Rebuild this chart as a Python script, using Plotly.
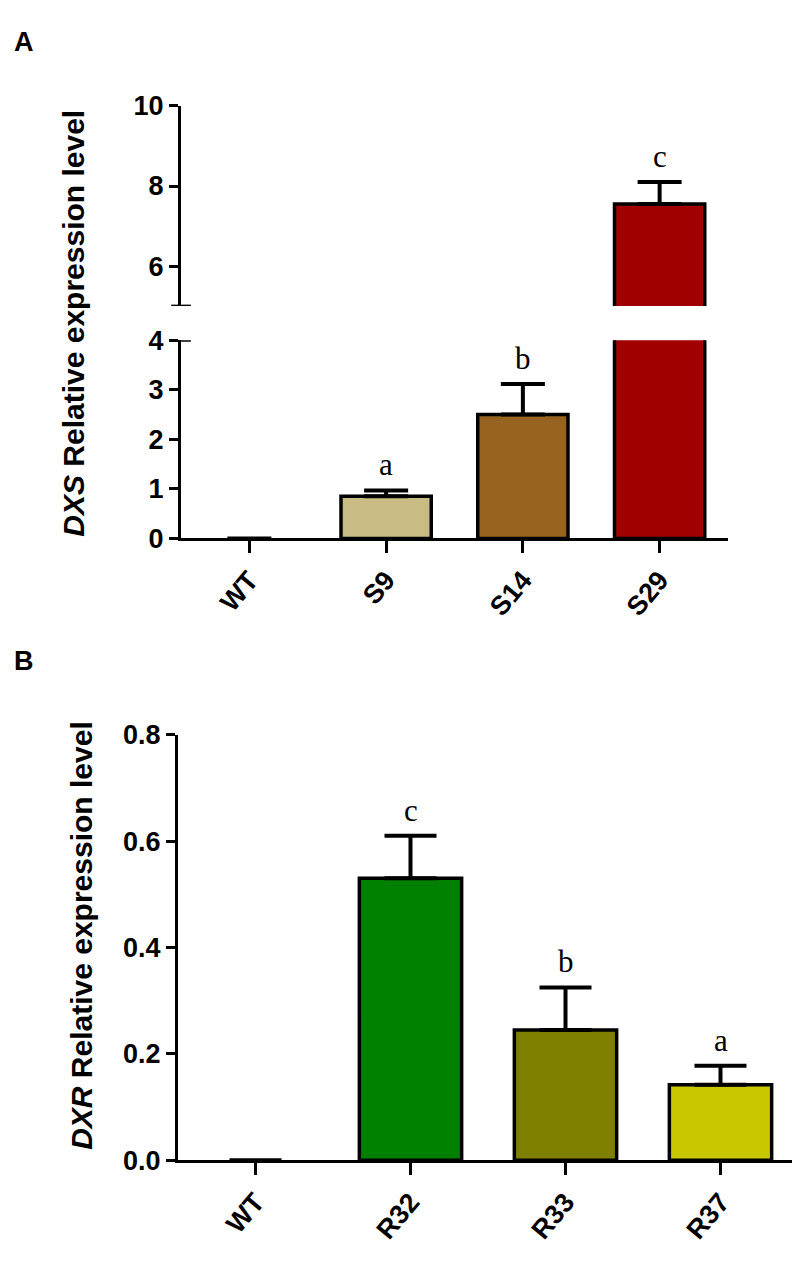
import plotly.graph_objects as go

W, H = 800, 1265

# ---------------- data ----------------
cats_a = ["WT", "S9", "S14", "S29"]
vals_a = [0.0, 0.85, 2.5, 7.55]
err_a = [0.0, 0.12, 0.62, 0.55]
letters_a = ["", "a", "b", "c"]
colors_a = ["#FFFFFF", "#C8BC84", "#966420", "#A00000"]

cats_b = ["WT", "R32", "R33", "R37"]
vals_b = [0.0, 0.53, 0.245, 0.142]
err_b = [0.0, 0.08, 0.08, 0.036]
letters_b = ["", "c", "b", "a"]
colors_b = ["#FFFFFF", "#007F00", "#808000", "#C8C800"]

lower_ticks_a = [0, 1, 2, 3, 4]
upper_ticks_a = [6, 8, 10]
ticks_b = [0.0, 0.2, 0.4, 0.6, 0.8]


def px_x(p):
    return p / W


def px_y(p):
    return 1 - p / H


FONT = "Liberation Sans, Arial, sans-serif"
SERIF = "Liberation Serif, Times New Roman, serif"
tickfont = dict(family=FONT, size=27, color="black", weight="bold")

fig = go.Figure()


def add_bars(cats, vals, errs, colors, xa, ya, capw):
    fig.add_trace(go.Bar(
        x=cats, y=vals, width=0.66,
        marker=dict(color=colors,
                    line=dict(color="black",
                              width=[3.5 if v > 0 else 0 for v in vals])),
        error_y=dict(type="data",
                     array=[e if e > 0 else None for e in errs],
                     arrayminus=[0 if e > 0 else None for e in errs],
                     symmetric=False, color="black", thickness=4, width=capw),
        xaxis=xa, yaxis=ya, showlegend=False, hoverinfo="skip",
    ))


# Panel A: lower and upper segments share x
add_bars(cats_a, vals_a, err_a, colors_a, "x", "y", 22)
add_bars(cats_a, vals_a, err_a, colors_a, "x", "y3", 22)
# Panel B
add_bars(cats_b, vals_b, err_b, colors_b, "x2", "y2", 26)

axis_common = dict(showline=True, linecolor="black", linewidth=3,
                   ticks="outside", tickcolor="black", tickwidth=3,
                   showgrid=False, zeroline=False, tickfont=tickfont)

fig.update_layout(
    width=W, height=H,
    margin=dict(l=0, r=0, t=0, b=0),
    paper_bgcolor="white", plot_bgcolor="white",
    bargap=0.34,
    xaxis=dict(domain=[px_x(173), px_x(720)], anchor="y",
               range=[-0.5, 3.5], tickangle=-50, ticklen=12, **axis_common),
    yaxis=dict(domain=[px_y(528), px_y(325)], anchor="x",
               range=[0, 4], tickvals=lower_ticks_a, ticklen=9,
               **axis_common),
    yaxis3=dict(domain=[px_y(290), px_y(85)], anchor="x",
                range=[5, 10], tickvals=upper_ticks_a, ticklen=9,
                **axis_common),
    xaxis2=dict(domain=[px_x(170), px_x(790)], anchor="y2",
                range=[-0.5, 3.5], tickangle=-50, ticklen=12, **axis_common),
    yaxis2=dict(domain=[px_y(1165), px_y(729)], anchor="x2",
                range=[0, 0.8], tickvals=ticks_b, tickformat=".1f",
                ticklen=9, **axis_common),
)

# axis-break marks on the split axis of panel A
for yref, yv in (("y3", 5), ("y", 4)):
    fig.add_shape(type="line", xref="x domain", yref=yref,
                  x0=-0.018, x1=0.018, y0=yv, y1=yv,
                  line=dict(color="black", width=3))

annotations = []
# significance letters
for c, v, e, t in zip(cats_a, vals_a, err_a, letters_a):
    if not t:
        continue
    yref = "y3" if v > 4 else "y"
    annotations.append(dict(x=c, y=v + e, xref="x", yref=yref, text=t,
                            showarrow=False, yanchor="bottom", yshift=6,
                            font=dict(family=SERIF, size=31, color="black")))
for c, v, e, t in zip(cats_b, vals_b, err_b, letters_b):
    if not t:
        continue
    annotations.append(dict(x=c, y=v + e, xref="x2", yref="y2", text=t,
                            showarrow=False, yanchor="bottom", yshift=6,
                            font=dict(family=SERIF, size=31, color="black")))

# panel letters
annotations.append(dict(x=px_x(4), y=px_y(2), xref="paper", yref="paper",
                        text="A", showarrow=False, xanchor="left", yanchor="top",
                        font=dict(family=FONT, size=27, color="black", weight="bold")))
annotations.append(dict(x=px_x(4), y=px_y(636), xref="paper", yref="paper",
                        text="B", showarrow=False, xanchor="left", yanchor="top",
                        font=dict(family=FONT, size=27, color="black", weight="bold")))

# y-axis titles
annotations.append(dict(x=px_x(66), y=px_y(308), xref="paper", yref="paper",
                        text="<i>DXS</i> Relative expression level", textangle=-90,
                        showarrow=False, xanchor="center", yanchor="middle",
                        font=dict(family=FONT, size=30, color="black", weight="bold")))
annotations.append(dict(x=px_x(74), y=px_y(935), xref="paper", yref="paper",
                        text="<i>DXR</i> Relative expression level", textangle=-90,
                        showarrow=False, xanchor="center", yanchor="middle",
                        font=dict(family=FONT, size=30, color="black", weight="bold")))

fig.update_layout(annotations=annotations)

fig.write_html("out.html")
